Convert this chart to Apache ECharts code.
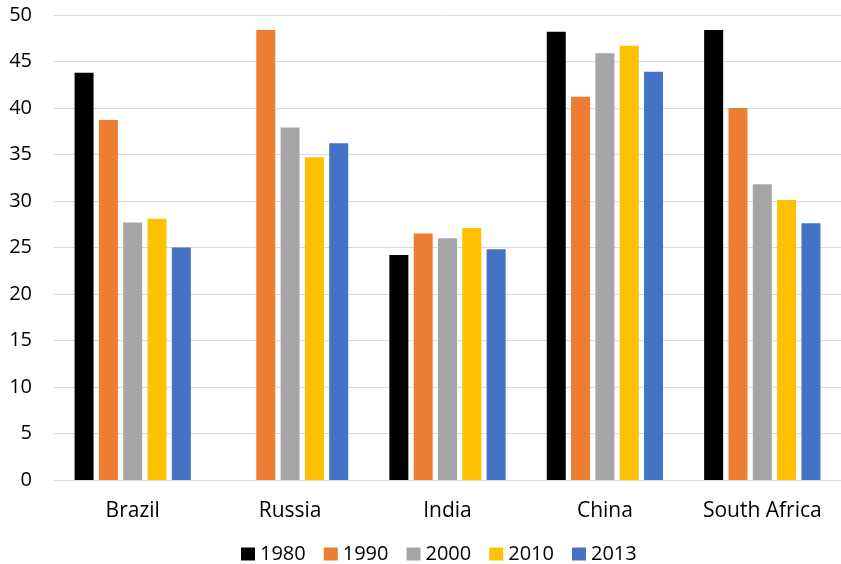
<!DOCTYPE html>
<html><head><meta charset="utf-8">
<script src="https://cdn.jsdelivr.net/npm/echarts@6/dist/echarts.min.js"></script>
<style>html,body{margin:0;padding:0;background:#fff}#c{width:841px;height:564px}</style>
</head><body><div id="c"></div>
<script>
const categories = ["Brazil", "Russia", "India", "China", "South Africa"];
const seriesNames = ["1980", "1990", "2000", "2010", "2013"];
const v1980 = [43.8, null, 24.2, 48.2, 48.4];
const v1990 = [38.7, 48.4, 26.5, 41.2, 40.0];
const v2000 = [27.7, 37.9, 26.0, 45.9, 31.8];
const v2010 = [28.1, 34.7, 27.1, 46.7, 30.1];
const v2013 = [25.0, 36.2, 24.8, 43.9, 27.6];
const colors = ["#000000", "#ED7D31", "#A5A5A5", "#FFC000", "#4472C4"];
const values = [v1980, v1990, v2000, v2010, v2013];
const font = "'Open Sans', 'Liberation Sans', sans-serif";
const chart = echarts.init(document.getElementById('c'));
chart.setOption({
  animation: false,
  textStyle: {fontFamily: font},
  grid: {left: 54, width: 793, top: 15, bottom: 84, containLabel: false},
  legend: {
    top: 539, left: 236, itemWidth: 14, itemHeight: 13, itemGap: 18,
    icon: 'rect',
    textStyle: {fontSize: 20, color: '#000', fontFamily: font},
    data: seriesNames
  },
  xAxis: {
    type: 'category', data: categories,
    axisLine: {lineStyle: {color: '#d9d9d9', width: 1}},
    axisTick: {show: false},
    axisLabel: {fontSize: 21, color: '#000', margin: 21, fontFamily: font}
  },
  yAxis: {
    type: 'value', min: 0, max: 50, interval: 5,
    axisLine: {show: false}, axisTick: {show: false},
    splitLine: {lineStyle: {color: '#d9d9d9', width: 1}},
    axisLabel: {fontSize: 20, color: '#000', margin: 22, fontFamily: font}
  },
  series: seriesNames.map((n, i) => ({
    name: n, type: 'bar', data: values[i],
    barWidth: 19, barGap: '28%',
    itemStyle: {color: colors[i]}
  }))
});
</script></body></html>
